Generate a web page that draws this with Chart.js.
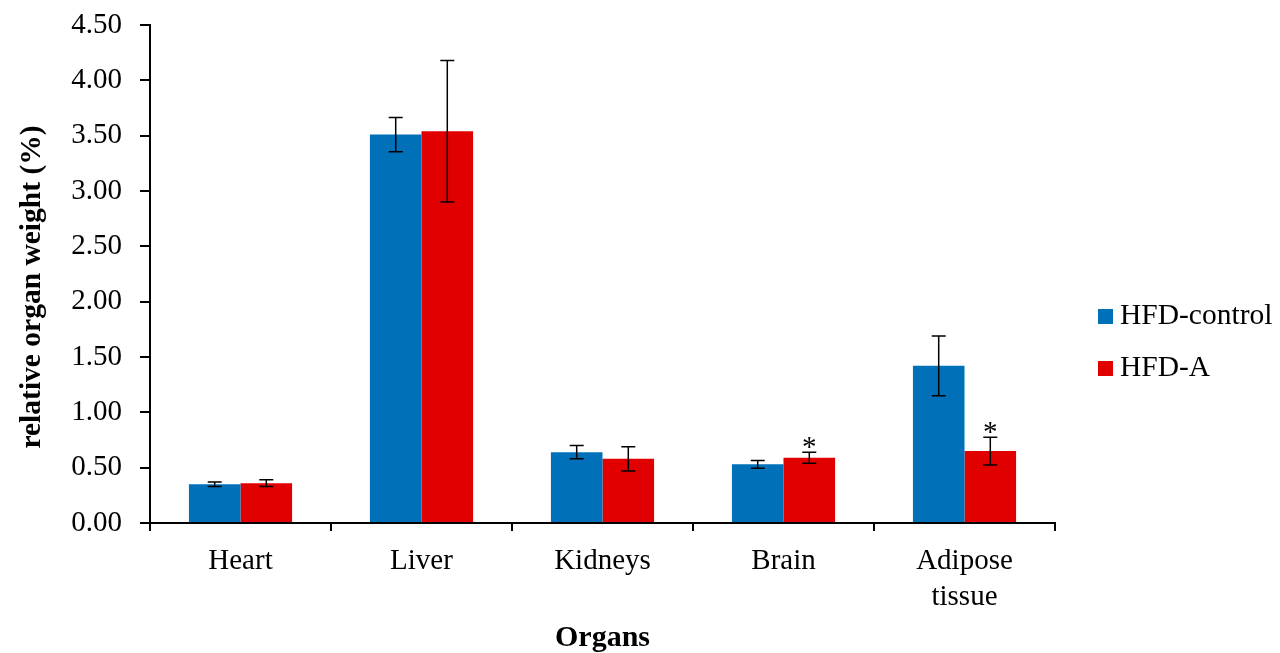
<!DOCTYPE html>
<html>
<head>
<meta charset="utf-8">
<script src="https://cdn.jsdelivr.net/npm/chart.js@4.4.1/dist/chart.umd.min.js"></script>
<style>
  html, body { margin: 0; padding: 0; background: #fff; }
  #wrap { width: 1280px; height: 653px; }
</style>
</head>
<body>
<div id="wrap"><canvas id="chart" width="1280" height="653"></canvas></div>
<script>
// Relative organ weight (%) per organ, mean with error
const organs = ['Heart', 'Liver', 'Kidneys', 'Brain', ['Adipose', 'tissue']];
const seriesNames = ['HFD-control', 'HFD-A'];
const controlMeans = [0.35, 3.51, 0.64, 0.53, 1.42];
const controlErr = [0.02, 0.155, 0.06, 0.035, 0.27];
const treatedMeans = [0.36, 3.54, 0.58, 0.59, 0.65];
const treatedErr = [0.03, 0.64, 0.11, 0.05, 0.125];
const treatedMarks = ['', '', '', '*', '*'];
const yMin = 0;
const yMax = 4.5;
const yStep = 0.5;

const SERIF = "'Liberation Serif', 'Times New Roman', serif";
const BLUE = '#0070b8';
const RED = '#e00000';

// error bars + significance marks
const errorBars = {
  id: 'errorBars',
  afterDatasetsDraw(chart) {
    const { ctx } = chart;
    const y = chart.scales.y;
    ctx.save();
    ctx.strokeStyle = '#000';
    ctx.lineWidth = 1.5;
    chart.data.datasets.forEach((ds, di) => {
      const meta = chart.getDatasetMeta(di);
      meta.data.forEach((bar, i) => {
        const v = ds.data[i];
        const e = ds.errors[i];
        const top = y.getPixelForValue(v + e);
        const bot = y.getPixelForValue(v - e);
        const half = 7;
        ctx.beginPath();
        ctx.moveTo(bar.x, top);
        ctx.lineTo(bar.x, bot);
        ctx.moveTo(bar.x - half, top);
        ctx.lineTo(bar.x + half, top);
        ctx.moveTo(bar.x - half, bot);
        ctx.lineTo(bar.x + half, bot);
        ctx.stroke();
        const mark = ds.marks ? ds.marks[i] : '';
        if (mark) {
          ctx.fillStyle = '#000';
          ctx.font = `29px ${SERIF}`;
          ctx.textAlign = 'center';
          ctx.textBaseline = 'alphabetic';
          ctx.fillText(mark, bar.x, top + 4);
        }
      });
    });
    ctx.restore();
  }
};

// legend on the right and rotated y title
const sideText = {
  id: 'sideText',
  afterDraw(chart) {
    const { ctx } = chart;
    ctx.save();
    chart.data.datasets.forEach((ds, i) => {
      const cy = 316.5 + i * 52;
      ctx.fillStyle = ds.backgroundColor;
      ctx.fillRect(1098, cy - 7.5, 15, 15);
      ctx.fillStyle = '#000';
      ctx.font = `29.5px ${SERIF}`;
      ctx.textAlign = 'left';
      ctx.textBaseline = 'middle';
      ctx.fillText(ds.label, 1120, cy);
    });
    ctx.translate(32, 287);
    ctx.rotate(-Math.PI / 2);
    ctx.font = `bold 29.5px ${SERIF}`;
    ctx.textAlign = 'center';
    ctx.textBaseline = 'middle';
    ctx.fillText('relative organ weight (%)', 0, 0);
    ctx.restore();
  }
};

new Chart(document.getElementById('chart'), {
  type: 'bar',
  data: {
    labels: organs,
    datasets: [
      {
        label: seriesNames[0],
        data: controlMeans,
        errors: controlErr,
        backgroundColor: BLUE,
        categoryPercentage: 0.57,
        barPercentage: 1.0,
      },
      {
        label: seriesNames[1],
        data: treatedMeans,
        errors: treatedErr,
        marks: treatedMarks,
        backgroundColor: RED,
        categoryPercentage: 0.57,
        barPercentage: 1.0,
      },
    ],
  },
  options: {
    responsive: false,
    devicePixelRatio: 1,
    animation: false,
    layout: { padding: { left: 0, right: 225, top: 25, bottom: 0 } },
    plugins: { legend: { display: false }, tooltip: { enabled: false } },
    scales: {
      x: {
        afterFit: (s) => { s.height = 130; },
        border: { color: '#000', width: 2 },
        grid: { drawOnChartArea: false, color: '#000', lineWidth: 2, tickLength: 8, offset: true },
        ticks: { color: '#000', padding: 12, font: { family: SERIF, size: 29, lineHeight: 1.25 }, maxRotation: 0 },
        title: {
          display: true,
          text: 'Organs',
          color: '#000',
          font: { family: SERIF, size: 30, weight: 'bold', lineHeight: 1.0 },
          padding: { top: 0, bottom: 0 },
        },
      },
      y: {
        min: yMin,
        max: yMax,
        afterFit: (s) => {
          s.width = 150;
          s.paddingTop = 0;
          s.paddingBottom = 0;
        },
        border: { color: '#000', width: 2 },
        grid: { drawOnChartArea: false, color: '#000', lineWidth: 2, tickLength: 10 },
        ticks: {
          stepSize: yStep,
          color: '#000',
          padding: 18,
          font: { family: SERIF, size: 29 },
          callback: (v) => Number(v).toFixed(2),
        },
      },
    },
  },
  plugins: [errorBars, sideText],
});
</script>
</body>
</html>
